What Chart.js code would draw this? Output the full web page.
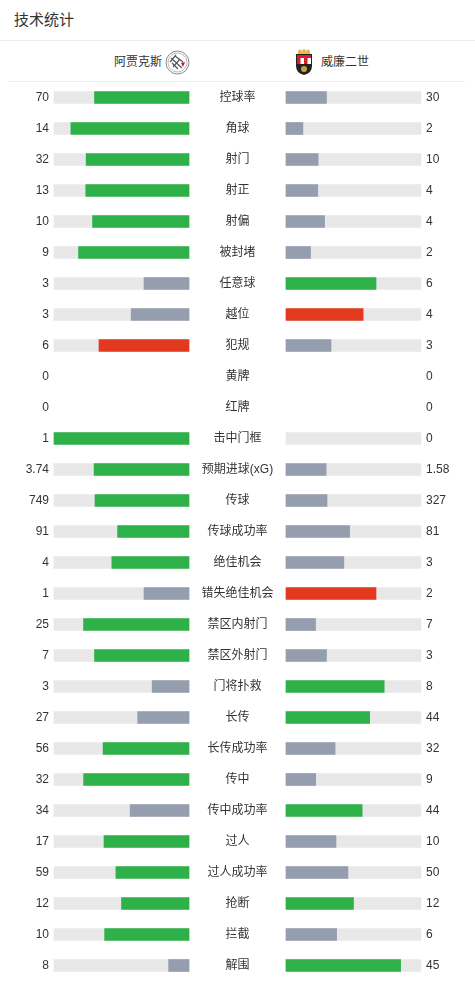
<!DOCTYPE html>
<html><head><meta charset="utf-8">
<script src="https://cdn.jsdelivr.net/npm/chart.js@4/dist/chart.umd.min.js"></script>
<style>
html,body{margin:0;padding:0;background:#fff;width:475px;height:981px;overflow:hidden;font-family:"Liberation Sans","Noto Sans CJK SC",sans-serif;color:#333}
#title{position:absolute;left:14px;top:9px;font-size:15px;line-height:22px;color:#333}
#line1{position:absolute;left:0;top:40px;width:475px;height:1px;background:#ececec}
#line2{position:absolute;left:8px;top:81px;width:457px;height:1px;background:#ececec}
.team{position:absolute;top:48px;height:28px;font-size:12px;line-height:28px;display:flex;align-items:center;color:#333}
#home{right:285px}
#home svg{margin-left:3px}
#away{left:295px}
#away svg{margin-right:8px}
#wrap{position:absolute;left:0;top:82px;width:475px;height:899px}
</style></head>
<body>
<div id="title">技术统计</div>
<div id="line1"></div>
<div class="team" id="home"><span>阿贾克斯</span>
<svg width="25" height="25" viewBox="0 0 25 25"><circle cx="12.5" cy="12.5" r="11.5" fill="#fff" stroke="#888" stroke-width="1"/><circle cx="12.5" cy="12.5" r="9.5" fill="none" stroke="#aaa" stroke-width="0.8"/><path d="M6 8 L17 18 M8 17 L15 9 M10 6 L18 12 M7 13 L13 19 M5 12 L11 5" stroke="#555" stroke-width="1.2" fill="none"/><path d="M16 13 L20 12 L18 17 Z" fill="#c8102e"/></svg></div>
<div class="team" id="away">
<svg width="18" height="28" viewBox="0 0 18 28"><path d="M3 3 L5 1 L7 3 L9 0.5 L11 3 L13 1 L15 3 L15 6 L3 6 Z" fill="#e7b84a"/><path d="M1 6 L17 6 L17 18 Q17 25 9 27 Q1 25 1 18 Z" fill="#222"/><rect x="2" y="7" width="14" height="9" fill="#fff"/><rect x="2" y="7" width="3.5" height="9" fill="#d3202a"/><rect x="9" y="7" width="3.5" height="9" fill="#d3202a"/><rect x="2" y="7" width="14" height="3" fill="#d3202a"/><circle cx="9" cy="21" r="3" fill="#c9a13b"/></svg>
<span>威廉二世</span></div>
<div id="line2"></div>
<div id="wrap"><canvas id="c" width="475" height="899"></canvas></div>
<script>
const categories = ["控球率","角球","射门","射正","射偏","被封堵","任意球","越位","犯规","黄牌","红牌","击中门框","预期进球(xG)","传球","传球成功率","绝佳机会","错失绝佳机会","禁区内射门","禁区外射门","门将扑救","长传","长传成功率","传中","传中成功率","过人","过人成功率","抢断","拦截","解围"];
const homeValues = [70,14,32,13,10,9,3,3,6,0,0,1,3.74,749,91,4,1,25,7,3,27,56,32,34,17,59,12,10,8];
const awayValues = [30,2,10,4,4,2,6,4,3,0,0,0,1.58,327,81,3,2,7,3,8,44,32,9,44,10,50,12,6,45];
const homeLabels = ["70","14","32","13","10","9","3","3","6","0","0","1","3.74","749","91","4","1","25","7","3","27","56","32","34","17","59","12","10","8"];
const awayLabels = ["30","2","10","4","4","2","6","4","3","0","0","0","1.58","327","81","3","2","7","3","8","44","32","9","44","10","50","12","6","45"];
const negativeStats = ["越位","犯规","黄牌","红牌","错失绝佳机会"];

const GREEN = "#2fb14a", GRAY = "#959eae", RED = "#e2391f", TRACK = "#e8e8e8";
const GAP = 48.5/135;           // half gap between tracks, in track units
const HALF = 237.5/135;         // half chart width in track units

const homeTrack = [], awayTrack = [], homeBar = [], awayBar = [], homeCol = [], awayCol = [];
categories.forEach((c,i)=>{
  const h = homeValues[i], a = awayValues[i], t = h + a;
  if (t > 0) {
    homeTrack.push([-(GAP+1), -GAP]);
    awayTrack.push([GAP, GAP+1]);
    homeBar.push(h > 0 ? [-(GAP + h/t), -GAP] : null);
    awayBar.push(a > 0 ? [GAP, GAP + a/t] : null);
  } else {
    homeTrack.push(null); awayTrack.push(null); homeBar.push(null); awayBar.push(null);
  }
  const hi = negativeStats.includes(c) ? RED : GREEN;
  homeCol.push(h >= a ? hi : GRAY);
  awayCol.push(a >= h ? hi : GRAY);
});

const labelPlugin = {
  id: 'labels',
  afterDatasetsDraw(chart) {
    const ctx = chart.ctx, xs = chart.scales.x, ys = chart.scales.y;
    ctx.save();
    ctx.fillStyle = "#333";
    ctx.textBaseline = "middle";
    ctx.font = '12px "Liberation Sans", "Noto Sans CJK SC", sans-serif';
    const cx = xs.getPixelForValue(0);
    const lx = xs.getPixelForValue(-(GAP+1)) - 5;
    const rx = xs.getPixelForValue(GAP+1) + 5;
    categories.forEach((c,i)=>{
      const y = ys.getPixelForValue(i) + 0.5;
      ctx.textAlign = "center"; ctx.fillText(c, cx, y);
      ctx.textAlign = "right"; ctx.fillText(homeLabels[i], lx, y);
      ctx.textAlign = "left"; ctx.fillText(awayLabels[i], rx, y);
    });
    ctx.restore();
  }
};

new Chart(document.getElementById('c'), {
  type: 'bar',
  data: {
    labels: categories,
    datasets: [
      {data: homeBar, backgroundColor: homeCol, order: 1},
      {data: awayBar, backgroundColor: awayCol, order: 1},
      {data: homeTrack, backgroundColor: TRACK, order: 2},
      {data: awayTrack, backgroundColor: TRACK, order: 2}
    ]
  },
  options: {
    indexAxis: 'y',
    responsive: false,
    animation: false,
    layout: {padding: 0},
    datasets: {bar: {grouped: false, barThickness: 12, borderWidth: 0, borderSkipped: false}},
    scales: {
      x: {type: 'linear', min: -HALF, max: HALF, display: false},
      y: {type: 'category', display: false, offset: true}
    },
    plugins: {legend: {display: false}, tooltip: {enabled: false}}
  },
  plugins: [labelPlugin]
});
</script>
</body></html>
